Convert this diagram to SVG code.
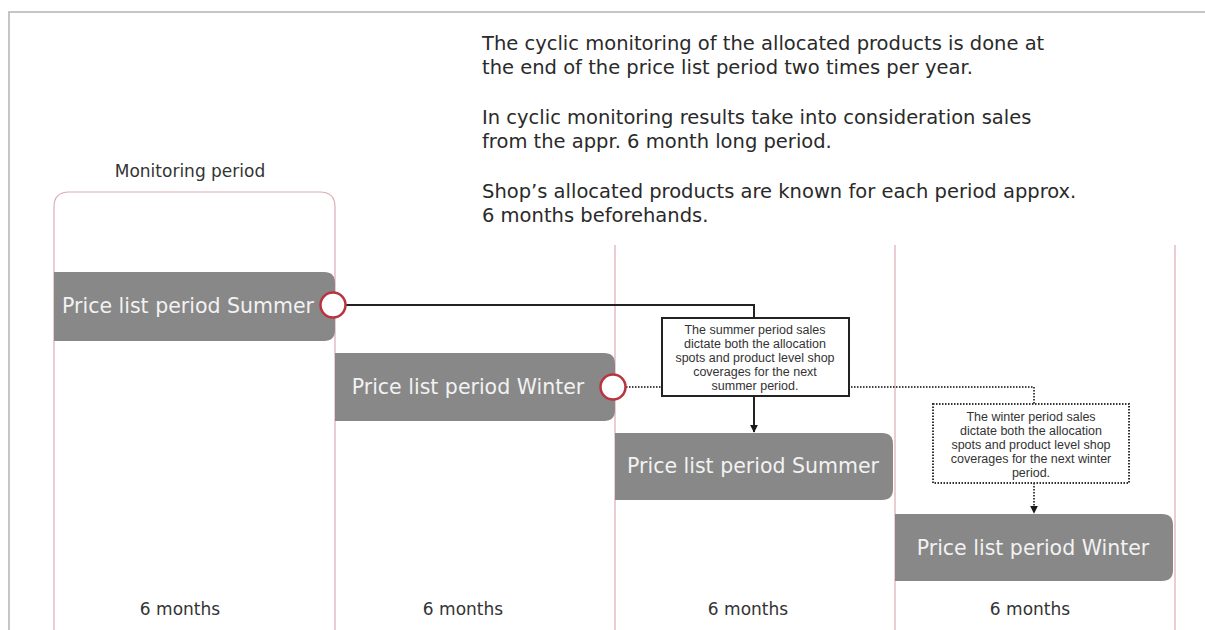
<svg xmlns="http://www.w3.org/2000/svg" width="1205" height="630" viewBox="0 0 1205 630">
  <defs>
    <marker id="arr" viewBox="0 0 10 10" refX="9" refY="5" markerWidth="4" markerHeight="4" orient="auto" markerUnits="strokeWidth">
      <path d="M0,0 L10,5 L0,10 z" fill="#1a1a1a"/>
    </marker>
    <style>
      .frame { fill: none; stroke: #b4b4b4; stroke-width: 1.5; }
      .vline { fill: none; stroke: #dcaab3; stroke-width: 1.2; }
      .node { fill: #888888; }
      .ntext { font-family: "DejaVu Sans", Verdana, sans-serif; font-size: 20.5px; fill: #f2f2f2; text-anchor: middle; }
      .circ { fill: #ffffff; stroke: #b9343f; stroke-width: 2.5; }
      .para { font-family: "DejaVu Sans", Verdana, sans-serif; font-size: 19.5px; fill: #2a2a2a; }
      .label { font-family: "DejaVu Sans", Verdana, sans-serif; font-size: 17px; fill: #333333; text-anchor: middle; }
      .note { font-family: "Liberation Sans", Arial, sans-serif; font-size: 12.5px; fill: #333333; text-anchor: middle; }
      .solid { fill: none; stroke: #222222; stroke-width: 2; }
      .dotted { fill: none; stroke: #444444; stroke-width: 2; stroke-dasharray: 1.5 1.5; }
      .box { fill: #ffffff; stroke: #222222; stroke-width: 2; }
      .dbox { fill: #ffffff; stroke: #333333; stroke-width: 2; stroke-dasharray: 1.5 1.5; }
    </style>
  </defs>
  <rect width="1205" height="630" fill="#ffffff"/>
  <path class="frame" d="M9,630 V12 H1205"/>

  <g id="timeline">
    <path class="vline" d="M54,630 V207 Q54,192 69,192 H320 Q335,192 335,207 V630"/>
    <line class="vline" x1="615" y1="245" x2="615" y2="630"/>
    <line class="vline" x1="895" y1="245" x2="895" y2="630"/>
    <line class="vline" x1="1175" y1="245" x2="1175" y2="630"/>
    <text class="label" x="190" y="177">Monitoring period</text>
    <text class="label" x="180" y="615">6 months</text>
    <text class="label" x="463" y="615">6 months</text>
    <text class="label" x="748" y="615">6 months</text>
    <text class="label" x="1030" y="615">6 months</text>
  </g>

  <g id="description">
    <text class="para" x="482" y="50">The cyclic monitoring of the allocated products is done at</text>
    <text class="para" x="482" y="74">the end of the price list period two times per year.</text>
    <text class="para" x="482" y="124">In cyclic monitoring results take into consideration sales</text>
    <text class="para" x="482" y="148">from the appr. 6 month long period.</text>
    <text class="para" x="482" y="198">Shop’s allocated products are known for each period approx.</text>
    <text class="para" x="482" y="222">6 months beforehands.</text>
  </g>

  <g id="node-summer-1">
    <path class="node" d="M54,272 H324 Q335,272 335,283 V330 Q335,341 324,341 H54 Z"/>
    <text class="ntext" x="188" y="313">Price list period Summer</text>
  </g>
  <g id="node-winter-1">
    <path class="node" d="M335,353 H604 Q615,353 615,364 V410 Q615,421 604,421 H335 Z"/>
    <text class="ntext" x="468" y="394">Price list period Winter</text>
  </g>
  <g id="node-summer-2">
    <path class="node" d="M615,433 H882 Q893,433 893,444 V489 Q893,500 882,500 H615 Z"/>
    <text class="ntext" x="753" y="473">Price list period Summer</text>
  </g>
  <g id="node-winter-2">
    <path class="node" d="M895,514 H1162 Q1173,514 1173,525 V570 Q1173,581 1162,581 H895 Z"/>
    <text class="ntext" x="1033" y="555">Price list period Winter</text>
  </g>

  <g id="connectors">
    <path class="solid" d="M346,305 H754 V432" marker-end="url(#arr)"/>
    <path class="dotted" d="M626,387 H1034 V513" marker-end="url(#arr)"/>
  </g>

  <g id="end-summer-1">
    <circle class="circ" cx="333" cy="305" r="12.5"/>
  </g>
  <g id="end-winter-1">
    <circle class="circ" cx="613" cy="387" r="12.5"/>
  </g>

  <g id="note-summer">
    <rect class="box" x="662" y="318" width="187" height="78"/>
    <text class="note" x="755" y="334">The summer period sales</text>
    <text class="note" x="755" y="348">dictate both the allocation</text>
    <text class="note" x="755" y="362">spots and product level shop</text>
    <text class="note" x="755" y="376">coverages for the next</text>
    <text class="note" x="755" y="390">summer period.</text>
  </g>
  <g id="note-winter">
    <rect class="dbox" x="933" y="404" width="196" height="79"/>
    <text class="note" x="1031" y="421">The winter period sales</text>
    <text class="note" x="1031" y="435">dictate both the allocation</text>
    <text class="note" x="1031" y="449">spots and product level shop</text>
    <text class="note" x="1031" y="463">coverages for the next winter</text>
    <text class="note" x="1031" y="477">period.</text>
  </g>
</svg>
